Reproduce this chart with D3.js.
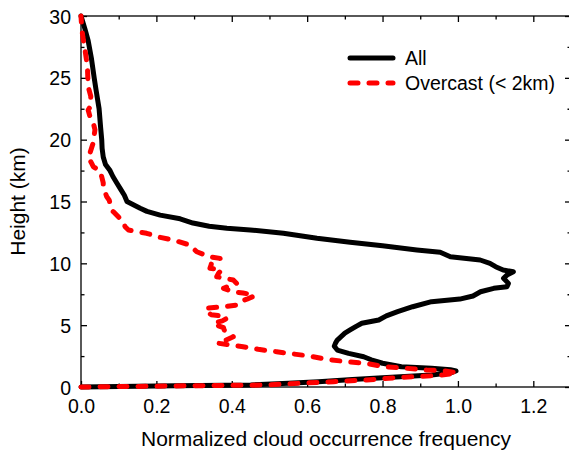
<!DOCTYPE html>
<html>
<head>
<meta charset="utf-8">
<script src="https://cdn.jsdelivr.net/npm/d3@7"></script>
<style>
  body { margin: 0; background: #fff; }
  svg { display: block; font-family: "Liberation Sans", Arial, sans-serif; }
</style>
</head>
<body>
<svg id="chart" width="569" height="455"></svg>
<script>
// profile for all clouds (height in km, normalized frequency)
const allHeight = [0.0, 0.05, 0.1, 0.16, 0.3, 0.43, 0.6, 0.75, 0.97, 1.15, 1.3, 1.4, 1.51, 1.64, 1.92, 2.2, 2.45, 2.72, 2.99, 3.3, 3.53, 3.8, 4.07, 4.35, 4.61, 4.9, 5.15, 5.42, 5.75, 6.09, 6.49, 6.9, 7.11, 7.36, 7.7, 7.98, 8.11, 8.38, 8.79, 9.05, 9.32, 9.46, 9.73, 10.0, 10.27, 10.53, 10.89, 11.08, 11.42, 11.7, 12.03, 12.43, 12.7, 12.83, 13.0, 13.26, 13.6, 13.9, 14.2, 14.45, 15.0, 15.5, 16.0, 16.5, 17.0, 17.5, 18.0, 18.6, 19.3, 20.0, 21.0, 22.5, 24.0, 25.0, 26.5, 28.0, 29.0, 29.6, 30.0];
const allFreq = [0.0, 0.1, 0.25, 0.45, 0.55, 0.63, 0.72, 0.8, 0.93, 0.98, 0.995, 0.98, 0.93, 0.85, 0.8, 0.77, 0.75, 0.71, 0.68, 0.672, 0.675, 0.68, 0.69, 0.7, 0.714, 0.73, 0.745, 0.79, 0.81, 0.84, 0.88, 0.93, 1.005, 1.04, 1.06, 1.095, 1.13, 1.134, 1.121, 1.13, 1.147, 1.12, 1.1, 1.085, 1.059, 0.98, 0.953, 0.891, 0.8, 0.714, 0.626, 0.537, 0.449, 0.387, 0.34, 0.297, 0.263, 0.21, 0.175, 0.157, 0.122, 0.115, 0.105, 0.095, 0.085, 0.077, 0.065, 0.059, 0.056, 0.055, 0.052, 0.048, 0.04, 0.035, 0.028, 0.019, 0.01, 0.004, 0.0];

// profile for overcast cases (cloud base < 2 km)
const ovcHeight = [0.0, 0.05, 0.1, 0.16, 0.3, 0.43, 0.57, 0.78, 0.91, 1.05, 1.16, 1.32, 1.37, 1.51, 1.64, 1.91, 2.05, 2.23, 2.5, 2.67, 2.85, 3.05, 3.26, 3.4, 3.55, 3.8, 4.07, 4.34, 4.6, 4.8, 5.0, 5.15, 5.35, 5.55, 5.7, 5.85, 6.1, 6.36, 6.5, 6.63, 6.9, 7.1, 7.3, 7.44, 7.6, 7.7, 7.98, 8.2, 8.38, 8.65, 8.92, 9.2, 9.46, 9.6, 9.85, 10.13, 10.4, 10.53, 10.94, 11.48, 11.88, 12.1, 12.43, 12.69, 12.96, 13.36, 14.17, 14.3, 15.1, 15.4, 16.2, 16.5, 17.0, 17.5, 17.8, 18.1, 18.6, 18.75, 19.7, 20.8, 21.3, 21.85, 22.4, 22.65, 23.5, 24.3, 25.9, 27.2, 28.3, 29.0, 30.0];
const ovcFreq = [0.0, 0.15, 0.3, 0.49, 0.58, 0.67, 0.758, 0.847, 0.935, 0.98, 0.997, 0.962, 0.917, 0.864, 0.802, 0.758, 0.705, 0.652, 0.608, 0.563, 0.519, 0.47, 0.43, 0.395, 0.362, 0.385, 0.404, 0.395, 0.38, 0.378, 0.36, 0.351, 0.375, 0.387, 0.383, 0.345, 0.335, 0.33, 0.38, 0.413, 0.422, 0.44, 0.455, 0.46, 0.43, 0.404, 0.378, 0.395, 0.413, 0.404, 0.36, 0.365, 0.373, 0.342, 0.345, 0.347, 0.369, 0.342, 0.307, 0.289, 0.245, 0.21, 0.174, 0.126, 0.117, 0.112, 0.086, 0.081, 0.075, 0.068, 0.059, 0.059, 0.055, 0.05, 0.033, 0.028, 0.019, 0.022, 0.032, 0.037, 0.033, 0.024, 0.019, 0.024, 0.026, 0.019, 0.017, 0.011, 0.005, 0.002, 0.0];

const xTicks = [0, 0.2, 0.4, 0.6, 0.8, 1.0, 1.2];
const xMinor = [0.1, 0.3, 0.5, 0.7, 0.9, 1.1];
const yTicks = [0, 5, 10, 15, 20, 25, 30];
const yMinor = [2.5, 7.5, 12.5, 17.5, 22.5, 27.5];
const seriesNames = ["All", "Overcast (< 2km)"];

const plotLeft = 81, plotRight = 571, plotTop = 16, plotBottom = 387;

const svg = d3.select("#chart");

const x = d3.scaleLinear().domain([0, 1.3]).range([plotLeft, plotRight]);
const y = d3.scaleLinear().domain([0, 30]).range([plotBottom, plotTop]);

// ticks on all four sides, pointing inward
function drawTicks(axisGen, tx, ty){
    const g = svg.append("g").attr("transform", `translate(${tx},${ty})`).call(axisGen);
    g.select(".domain").remove();
    g.selectAll("line").attr("stroke", "#000").attr("stroke-width", 1.3);
    return g;
}

const bottomMajor = drawTicks(d3.axisBottom(x).tickValues(xTicks).tickSize(-6).tickFormat(d3.format(".1f")), 0, plotBottom);
bottomMajor.selectAll("text")
    .attr("y", 26)
    .attr("dy", 0)
    .style("font-size", "19.5px")
    .attr("fill", "#000");
drawTicks(d3.axisBottom(x).tickValues(xMinor).tickSize(-3.5).tickFormat(""), 0, plotBottom);
drawTicks(d3.axisTop(x).tickValues(xTicks).tickSize(-6).tickFormat(""), 0, plotTop);
drawTicks(d3.axisTop(x).tickValues(xMinor).tickSize(-3.5).tickFormat(""), 0, plotTop);

const leftMajor = drawTicks(d3.axisLeft(y).tickValues(yTicks).tickSize(-6).tickFormat(d3.format("d")), plotLeft, 0);
leftMajor.selectAll("text")
    .attr("x", -10)
    .attr("dy", "0.36em")
    .style("font-size", "19.5px")
    .attr("fill", "#000");
drawTicks(d3.axisLeft(y).tickValues(yMinor).tickSize(-3.5).tickFormat(""), plotLeft, 0);
drawTicks(d3.axisRight(y).tickValues(yTicks).tickSize(-6).tickFormat(""), plotRight, 0);
drawTicks(d3.axisRight(y).tickValues(yMinor).tickSize(-3.5).tickFormat(""), plotRight, 0);

// frame
svg.append("rect")
    .attr("x", plotLeft).attr("y", plotTop)
    .attr("width", plotRight - plotLeft).attr("height", plotBottom - plotTop)
    .attr("fill", "none")
    .attr("stroke", "#000")
    .attr("stroke-width", 1.3);

const line = d3.line()
    .x(d => x(d[0]))
    .y(d => y(d[1]));

const allData = allHeight.map((h, i) => [allFreq[i], h]);
const ovcData = ovcHeight.map((h, i) => [ovcFreq[i], h]);

svg.append("path")
    .datum(allData)
    .attr("d", line)
    .attr("fill", "none")
    .attr("stroke", "#000")
    .attr("stroke-width", 5)
    .attr("stroke-linejoin", "round")
    .attr("stroke-linecap", "round");

svg.append("path")
    .datum(ovcData)
    .attr("d", line)
    .attr("fill", "none")
    .attr("stroke", "#ff0000")
    .attr("stroke-width", 5)
    .attr("stroke-dasharray", "8,11")
    .attr("stroke-linejoin", "round")
    .attr("stroke-linecap", "round");

// legend
const legend = svg.append("g");
const legendStyles = [
    {stroke: "#000", dash: null},
    {stroke: "#ff0000", dash: "8,11"}
];
seriesNames.forEach((name, i) => {
    const ly = 58 + i * 25;
    legend.append("line")
        .attr("x1", 350).attr("x2", 393)
        .attr("y1", ly).attr("y2", ly)
        .attr("stroke", legendStyles[i].stroke)
        .attr("stroke-width", 5)
        .attr("stroke-linecap", "round")
        .attr("stroke-dasharray", legendStyles[i].dash);
    legend.append("text")
        .attr("x", 405)
        .attr("y", ly)
        .attr("dy", "0.36em")
        .style("font-size", "19.5px")
        .text(name);
});

// axis titles
svg.append("text")
    .attr("x", (plotLeft + plotRight) / 2)
    .attr("y", 446)
    .style("text-anchor", "middle")
    .style("font-size", "21px")
    .text("Normalized cloud occurrence frequency");

svg.append("text")
    .attr("transform", `translate(25,${(plotTop + plotBottom) / 2}) rotate(-90)`)
    .style("text-anchor", "middle")
    .style("font-size", "21px")
    .text("Height (km)");
</script>
</body>
</html>
